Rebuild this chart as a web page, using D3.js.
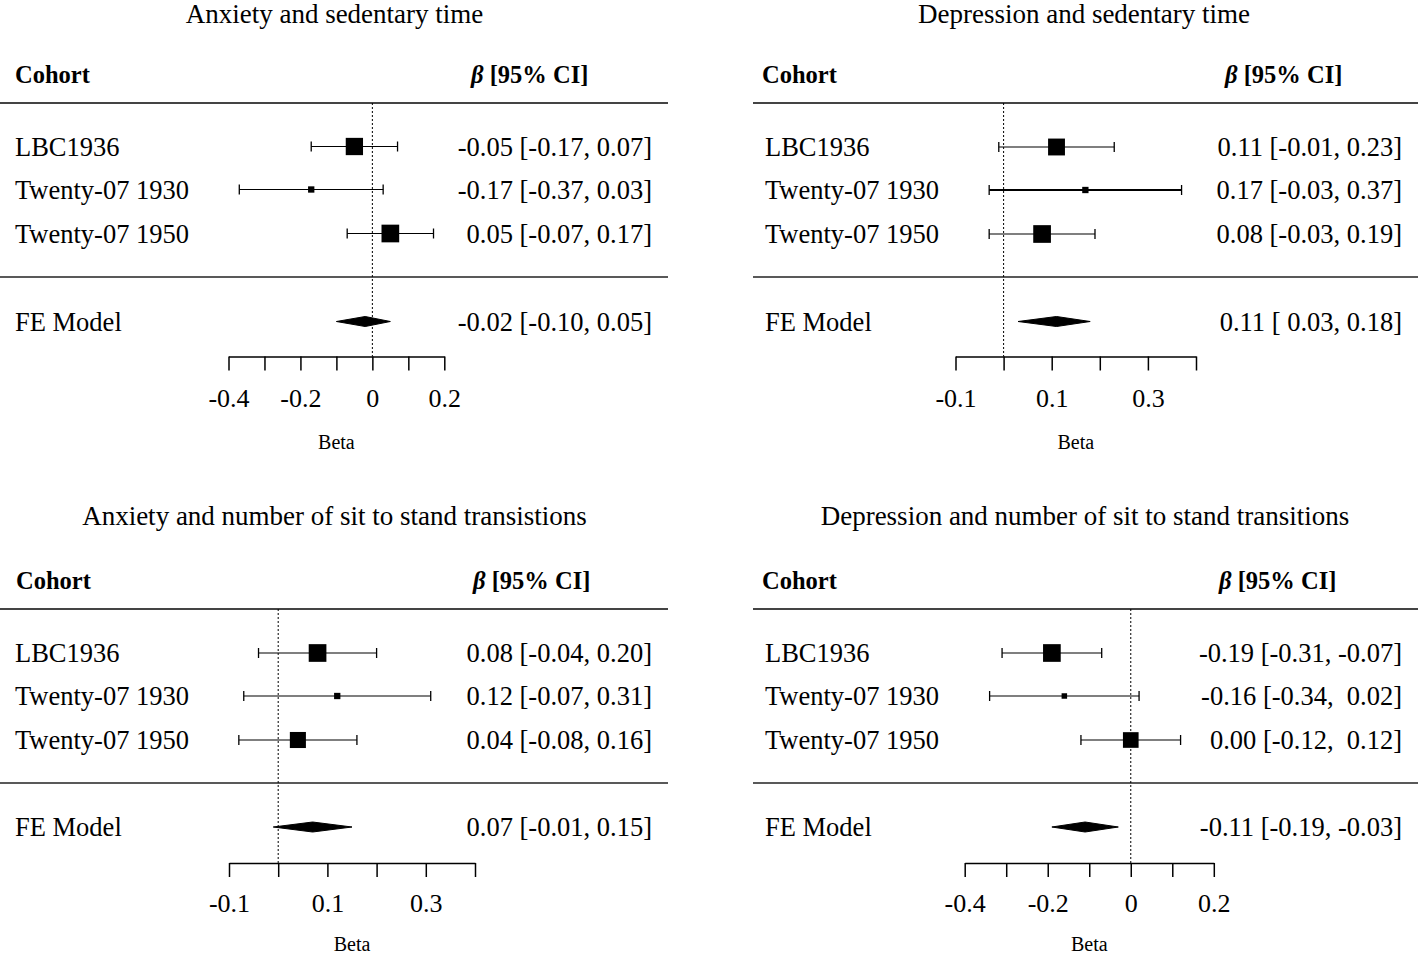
<!DOCTYPE html>
<html>
<head>
<meta charset="utf-8">
<script src="https://cdn.jsdelivr.net/npm/d3@7"></script>
<style>
  html, body { margin: 0; padding: 0; background: #fff; }
  svg { display: block; }
  text { font-family: "Liberation Serif", "Times New Roman", serif; fill: #000; white-space: pre; }
</style>
</head>
<body>
<svg id="chart" width="1418" height="955"></svg>
<script>
// ---------------- DATA ----------------
const cohorts = ["LBC1936", "Twenty-07 1930", "Twenty-07 1950"];
const fixedLabel = "FE Model";
const titles = [
  "Anxiety and sedentary time",
  "Depression and sedentary time",
  "Anxiety and number of sit to stand transistions",
  "Depression and number of sit to stand transitions"
];

// Anxiety & sedentary time
const anxSedEst = [-0.05, -0.17, 0.05];
const anxSedLo  = [-0.17, -0.37, -0.07];
const anxSedHi  = [0.07, 0.03, 0.17];
const anxSedWeight = [42, 15, 43];
const anxSedFE  = [-0.02, -0.10, 0.05];
const anxSedTicks = [-0.4, -0.3, -0.2, -0.1, 0, 0.1, 0.2];
const anxSedTickLabels = [-0.4, -0.2, 0, 0.2];

// Depression & sedentary time
const depSedEst = [0.11, 0.17, 0.08];
const depSedLo  = [-0.01, -0.03, -0.03];
const depSedHi  = [0.23, 0.37, 0.19];
const depSedWeight = [41, 15, 43];
const depSedFE  = [0.11, 0.03, 0.18];
const depSedTicks = [-0.1, 0, 0.1, 0.2, 0.3, 0.4];
const depSedTickLabels = [-0.1, 0.1, 0.3];

// Anxiety & sit-to-stand transitions
const anxStsEst = [0.08, 0.12, 0.04];
const anxStsLo  = [-0.04, -0.07, -0.08];
const anxStsHi  = [0.20, 0.31, 0.16];
const anxStsWeight = [43, 15, 39];
const anxStsFE  = [0.07, -0.01, 0.15];
const anxStsTicks = [-0.1, 0, 0.1, 0.2, 0.3, 0.4];
const anxStsTickLabels = [-0.1, 0.1, 0.3];

// Depression & sit-to-stand transitions
const depStsEst = [-0.19, -0.16, 0.00];
const depStsLo  = [-0.31, -0.34, -0.12];
const depStsHi  = [-0.07, 0.02, 0.12];
const depStsWeight = [43, 13, 38];
const depStsFE  = [-0.11, -0.19, -0.03];
const depStsTicks = [-0.4, -0.3, -0.2, -0.1, 0, 0.1, 0.2];
const depStsTickLabels = [-0.4, -0.2, 0, 0.2];

// ---------------- LAYOUT ----------------
const panelData = [
  {est: anxSedEst, lo: anxSedLo, hi: anxSedHi, w: anxSedWeight, fe: anxSedFE, ticks: anxSedTicks, tl: anxSedTickLabels},
  {est: depSedEst, lo: depSedLo, hi: depSedHi, w: depSedWeight, fe: depSedFE, ticks: depSedTicks, tl: depSedTickLabels},
  {est: anxStsEst, lo: anxStsLo, hi: anxStsHi, w: anxStsWeight, fe: anxStsFE, ticks: anxStsTicks, tl: anxStsTickLabels},
  {est: depStsEst, lo: depStsLo, hi: depStsHi, w: depStsWeight, fe: depStsFE, ticks: depStsTicks, tl: depStsTickLabels}
];
const layouts = [
  {lx0: 0, lx1: 668, cohortX: 15, labelX: 15, betaX: 471, valX: 652, titleX: 334.5, range: [228.5, 444.3], midLineW: [1.2, 1.2, 1.2],
   y: {title: 14, header: 74, line1: 103, rows: [146.5, 189.5, 233.5], line2: 277, fe: 321.5, axis: 356.5, tick: 398, beta: 441.5}},
  {lx0: 753, lx1: 1418, cohortX: 762, labelX: 765, betaX: 1225, valX: 1402, titleX: 1084, range: [955.5, 1196], midLineW: [1.2, 2, 1.2],
   y: {title: 14, header: 74, line1: 103, rows: [147, 190, 234], line2: 277, fe: 321.5, axis: 356.5, tick: 398, beta: 441.5}},
  {lx0: 0, lx1: 668, cohortX: 16, labelX: 15, betaX: 473, valX: 652, titleX: 334.5, range: [229, 475], midLineW: [1.2, 1.2, 1.2],
   y: {title: 516, header: 580, line1: 609, rows: [653, 696, 740], line2: 783, fe: 827, axis: 863, tick: 903, beta: 943.5}},
  {lx0: 753, lx1: 1418, cohortX: 762, labelX: 765, betaX: 1219, valX: 1402, titleX: 1085, range: [964.7, 1213.8], midLineW: [1.2, 1.2, 1.2],
   y: {title: 516, header: 580, line1: 609, rows: [653, 696, 740], line2: 783, fe: 827, axis: 863, tick: 903, beta: 943.5}}
];

const sizeScale = d3.scaleLinear().domain([13, 45]).range([5.5, 18.5]);
const svg = d3.select("#chart");

function fmt2(v) { return (Math.abs(v) < 1e-9 ? 0 : v).toFixed(2); }
function padCol(vals) {
  const anyNeg = vals.some(v => v < 0);
  return vals.map(v => (anyNeg && v >= 0 ? " " : "") + fmt2(v));
}
function tickFmt(d) { return Math.abs(d) < 1e-9 ? "0" : String(d); }

panelData.forEach((p, i) => {
  const L = layouts[i];
  const Y = L.y;
  const g = svg.append("g");
  const x = d3.scaleLinear().domain([p.ticks[0], p.ticks[p.ticks.length - 1]]).range(L.range);

  // title
  g.append("text").attr("x", L.titleX).attr("y", Y.title).attr("text-anchor", "middle")
    .attr("dominant-baseline", "central").style("font-size", "27px").text(titles[i]);

  // headers
  g.append("text").attr("x", L.cohortX).attr("y", Y.header).attr("dominant-baseline", "central")
    .style("font-size", "24.5px").style("font-weight", "bold").text("Cohort");
  const hb = g.append("text").attr("x", L.betaX).attr("y", Y.header).attr("dominant-baseline", "central")
    .style("font-size", "24.5px").style("font-weight", "bold");
  hb.append("tspan").style("font-style", "italic").text("β");
  hb.append("tspan").text(" [95% CI]");

  // horizontal rules
  g.append("line").attr("x1", L.lx0).attr("x2", L.lx1).attr("y1", Y.line1).attr("y2", Y.line1)
    .attr("stroke", "#444").attr("stroke-width", 2);
  g.append("line").attr("x1", L.lx0).attr("x2", L.lx1).attr("y1", Y.line2).attr("y2", Y.line2)
    .attr("stroke", "#222").attr("stroke-width", 1.6);

  // reference line at 0
  g.append("line").attr("x1", x(0)).attr("x2", x(0)).attr("y1", Y.line1).attr("y2", Y.axis)
    .attr("stroke", "#000").attr("stroke-width", 1).attr("stroke-dasharray", "2,2");

  // value text columns
  const estCol = padCol(p.est.concat([p.fe[0]]));
  const loCol = padCol(p.lo.concat([p.fe[1]]));
  const hiCol = padCol(p.hi.concat([p.fe[2]]));

  cohorts.forEach((c, j) => {
    const yy = Y.rows[j];
    g.append("text").attr("x", L.labelX).attr("y", yy).attr("dominant-baseline", "central")
      .style("font-size", "26.5px").text(c);
    g.append("line").attr("x1", x(p.lo[j])).attr("x2", x(p.hi[j])).attr("y1", yy).attr("y2", yy)
      .attr("stroke", "#000").attr("stroke-width", L.midLineW[j]);
    [p.lo[j], p.hi[j]].forEach(v => {
      g.append("line").attr("x1", x(v)).attr("x2", x(v)).attr("y1", yy - 5).attr("y2", yy + 5)
        .attr("stroke", "#000").attr("stroke-width", 1.3);
    });
    const s = sizeScale(p.w[j]);
    g.append("rect").attr("x", x(p.est[j]) - s / 2).attr("y", yy - s / 2).attr("width", s).attr("height", s)
      .attr("fill", "#000");
    g.append("text").attr("x", L.valX).attr("y", yy).attr("text-anchor", "end").attr("dominant-baseline", "central")
      .attr("xml:space", "preserve").style("font-size", "26.5px")
      .text(`${estCol[j]} [${loCol[j]}, ${hiCol[j]}]`);
  });

  // FE model
  g.append("text").attr("x", L.labelX).attr("y", Y.fe).attr("dominant-baseline", "central")
    .style("font-size", "26.5px").text(fixedLabel);
  const fy = Y.fe, h = 5;
  g.append("polygon")
    .attr("points", [[x(p.fe[1]), fy], [x(p.fe[0]), fy - h], [x(p.fe[2]), fy], [x(p.fe[0]), fy + h]].map(d => d.join(",")).join(" "))
    .attr("fill", "#000").attr("stroke", "#000").attr("stroke-width", 1);
  g.append("text").attr("x", L.valX).attr("y", Y.fe).attr("text-anchor", "end").attr("dominant-baseline", "central")
    .attr("xml:space", "preserve").style("font-size", "26.5px")
    .text(`${estCol[3]} [${loCol[3]}, ${hiCol[3]}]`);

  // axis
  const axis = d3.axisBottom(x).tickValues(p.ticks).tickSize(14).tickSizeOuter(0)
    .tickFormat(d => p.tl.some(t => Math.abs(t - d) < 1e-9) ? tickFmt(d) : "");
  const ag = g.append("g").attr("transform", `translate(0,${Y.axis})`).call(axis);
  ag.select(".domain").attr("stroke", "#000").attr("stroke-width", 1.5);
  ag.selectAll(".tick line").attr("stroke", "#000").attr("stroke-width", 1.5);
  ag.selectAll(".tick text").attr("y", Y.tick - Y.axis).attr("dy", null)
    .attr("dominant-baseline", "central").attr("fill", "#000")
    .style("font-family", '"Liberation Serif", "Times New Roman", serif').style("font-size", "26px");

  g.append("text").attr("x", (L.range[0] + L.range[1]) / 2).attr("y", Y.beta).attr("text-anchor", "middle")
    .attr("dominant-baseline", "central").style("font-size", "20px").text("Beta");
});
</script>
</body>
</html>
